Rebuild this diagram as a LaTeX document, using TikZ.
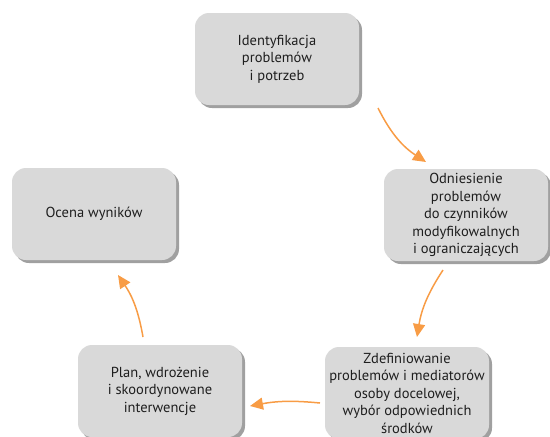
\documentclass[tikz,border=0pt]{standalone}
\usepackage{fontspec}
\setmainfont{PT Sans}
\usetikzlibrary{arrows.meta,shadows}
\definecolor{boxgray}{HTML}{D9D9D9}
\definecolor{rimgray}{HTML}{A0A0A0}
\definecolor{arroworange}{HTML}{F89C45}
\definecolor{textdark}{HTML}{1E1E1E}

\begin{document}
\begin{tikzpicture}[
            x = 1pt, y = -1pt, % pixel-like units, y downwards
            > = {Triangle[length=13pt,width=12pt]}, % arrow head style
            box/.style = {shape=rectangle, rounded corners=14pt, fill=boxgray,
                minimum width=164pt, minimum height=92pt, align=center,
                text=textdark, font=\fontsize{14.5}{17.5}\selectfont,
                drop shadow={shadow xshift=3pt, shadow yshift=-3pt,
                    fill=rimgray, opacity=1}},
            flow/.style = {->, draw=arroworange, line width=1.5pt}
        ]

\useasboundingbox (0,0) rectangle (550,437);

\node[box] (Ident) at (277,59) {Identyfikacja\\problemów\\i potrzeb};
\node[box] (Odnies) at (466,215) {Odniesienie\\problemów\\do czynników\\modyfikowalnych\\i ograniczających};
\node[box] (Zdef) at (407,393) {Zdefiniowanie\\problemów i mediatorów\\osoby docelowej,\\wybór odpowiednich\\środków};
\node[box] (Plan) at (160,391) {Plan, wdrożenie\\i skoordynowane\\interwencje};
\node[box] (Ocena) at (94,214) {Ocena wyników};

% arrow ends, off the boxes
\coordinate (Ident_out) at (378,108);
\coordinate (Odnies_in) at (426,162);
\coordinate (Odnies_out) at (443,270);
\coordinate (Zdef_in) at (417,337);
\coordinate (Zdef_out) at (320,403);
\coordinate (Plan_in) at (250,406);
\coordinate (Plan_out) at (143,337);
\coordinate (Ocena_in) at (118,275);

 \draw [flow] (Ident_out) to[bend right=15] (Odnies_in);
 \draw [flow] (Odnies_out) to[bend right=12] (Zdef_in);
 \draw [flow] (Zdef_out) to[bend right=8] (Plan_in);
 \draw [flow] (Plan_out) to[bend right=12] (Ocena_in);
\end{tikzpicture}
\end{document}
